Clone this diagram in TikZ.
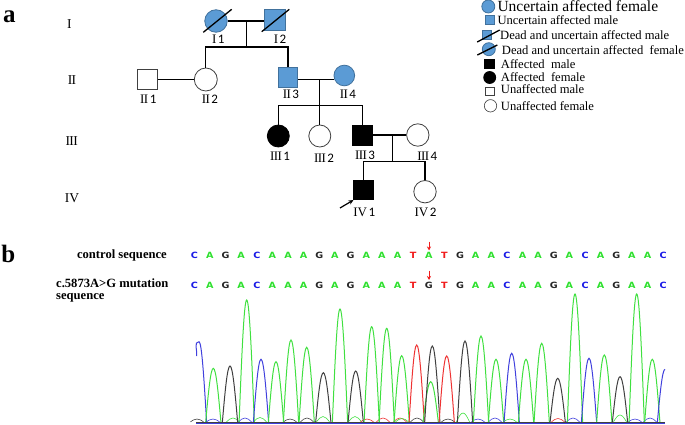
\documentclass[tikz,border=0pt]{standalone}
\usepackage{fontspec}
\setmainfont{Liberation Serif}
\newfontfamily\seqfont{DejaVu Sans}
\newfontfamily\digfont{Carlito}
\usepackage{graphicx}
\usetikzlibrary{arrows.meta}
\definecolor{pblue}{HTML}{5B9BD5}
\definecolor{pbord}{HTML}{41719C}
\definecolor{sA}{HTML}{2EE02E}
\definecolor{sC}{HTML}{1A1AE6}
\definecolor{sG}{HTML}{262626}
\definecolor{sT}{HTML}{F01C1C}
\definecolor{tA}{HTML}{40E040}
\definecolor{tC}{HTML}{4040DD}
\definecolor{tG}{HTML}{404040}
\definecolor{tT}{HTML}{EE3333}
\newcommand{\gI}{I}
\newcommand{\gII}{I\kern-0.6pt I}
\newcommand{\gIII}{I\kern-0.6pt I\kern-0.6pt I}
\newcommand{\gIV}{IV}
\newcommand{\plab}[2]{#1\kern1.5pt{\digfont #2}}
\begin{document}
\begin{tikzpicture}[x=1pt,y=-1pt,
  ped/.style={line width=1.3pt},
  pm/.style={rectangle, inner sep=0pt, line width=0.8pt},
  pf/.style={circle, inner sep=0pt, line width=0.8pt},
  unc/.style={fill=pblue, draw=pbord},
  aff/.style={fill=black, draw=black},
  una/.style={fill=white, draw=black!75},
  slash/.style={line width=1.3pt},
  lab/.style={font=\fontsize{13}{13}\selectfont, inner sep=0pt},
  gen/.style={font=\fontsize{13.5}{13.5}\selectfont, inner sep=0pt},
  leg/.style={font=\fontsize{12.6}{13}\selectfont, anchor=west, inner sep=0pt},
  seqlab/.style={font=\bfseries\fontsize{12.6}{14}\selectfont, inner sep=0pt},
  seqch/.style={font=\seqfont\bfseries\fontsize{8.6}{9}\selectfont, inner sep=0pt},
  panel/.style={font=\bfseries\fontsize{25}{25}\selectfont, inner sep=0pt},
  trace/.style={line width=1pt},
  bump/.style={line width=0.6pt}
]
\path[use as bounding box] (0,0) rectangle (685,425);

% panel letters
\node[panel] (pa) at (9.3,17) {a};
\node[panel] (pb) at (8.3,254) {b};

% generation labels
\node[gen] (gI) at (69.3,23.8) {\gI};
\node[gen] (gII) at (72,80.5) {\gII};
\node[gen] (gIII) at (71.7,141.3) {\gIII};
\node[gen] (gIV) at (72,197.8) {\gIV};

% generation I
\node[pf,unc,minimum size=22.5pt] (I1) at (216,21) {};
\node[pm,unc,minimum size=21.3pt] (I2) at (275,19.8) {};
\draw[slash] (I1.center) ++(-12.7,11.3) -- ++(28.4,-23);
\draw[slash] (I2.center) ++(-13.3,11.9) -- ++(27.6,-22.4);
\coordinate (m1) at (246.7,21);
\coordinate (s1) at (246.7,47);

% generation II
\node[pm,una,minimum size=20pt] (II1) at (147.3,79.5) {};
\node[pf,una,minimum size=23pt] (II2) at (205.8,79.5) {};
\node[pm,unc,minimum size=19.5pt] (II3) at (288,77.2) {};
\node[pf,unc,minimum size=20.7pt] (II4) at (344.3,75.5) {};
\coordinate (m2) at (319.3,79.3);
\coordinate (s2) at (319.3,105.3);

% generation III
\node[pf,aff,minimum size=22pt] (III1) at (278.3,136) {};
\node[pf,una,minimum size=22pt] (III2) at (319.8,136) {};
\node[pm,aff,minimum size=20.5pt] (III3) at (362.3,135.5) {};
\node[pf,una,minimum size=22.4pt] (III4) at (417.8,135) {};
\coordinate (m3) at (392.3,135);
\coordinate (s3) at (392.3,161.7);

% generation IV
\node[pm,aff,minimum size=19.3pt] (IV1) at (363.5,190) {};
\node[pf,una,minimum size=22.4pt] (IV2) at (425,191.7) {};

% pedigree lines
\draw[ped] (I1.east) -- (I2.west |- I1.east);
\draw[ped] (m1) -- (s1);
\draw[ped] (II2.north) |- (s1) -| (II3.north);
\draw[ped] (II1.east) -- (II2.west);
\draw[ped] (II3.east |- m2) -- (II4.west |- m2);
\draw[ped] (m2) -- (s2);
\draw[ped] (III1.north) |- (s2) -| (III3.north);
\draw[ped] (III2.north) -- (III2.north |- s2);
\draw[ped] (III3.east |- m3) -- (III4.west |- m3);
\draw[ped] (m3) -- (s3);
\draw[ped] (IV1.north) |- (s3) -| (IV2.north);

% proband arrow
\coordinate (pr0) at (340,208);
\draw[line width=1.2pt,-{Stealth[length=5pt,width=4.5pt]}] (pr0) -- (IV1.south west);

% individual labels
\node[lab] (lI1) at (218.3,39) {\plab{\gI}{1}};
\node[lab] (lI2) at (280,39) {\plab{\gI}{2}};
\node[lab] (lII1) at (148.3,99) {\plab{\gII}{1}};
\node[lab] (lII2) at (210,99) {\plab{\gII}{2}};
\node[lab] (lII3) at (291,94.5) {\plab{\gII}{3}};
\node[lab] (lII4) at (348,94.5) {\plab{\gII}{4}};
\node[lab] (lIII1) at (280,156.7) {\plab{\gIII}{1}};
\node[lab] (lIII2) at (324,158) {\plab{\gIII}{2}};
\node[lab] (lIII3) at (365,155.3) {\plab{\gIII}{3}};
\node[lab] (lIII4) at (427.3,156.7) {\plab{\gIII}{4}};
\node[lab] (lIV1) at (364.2,212.5) {\plab{\gIV}{1}};
\node[lab] (lIV2) at (425.5,212.5) {\plab{\gIV}{2}};

% legend
\node[pf,unc,minimum size=13pt] (k1) at (488.3,6.5) {};
\node[leg,font=\fontsize{15.5}{16}\selectfont] (t1) at (497.3,6.3) {Uncertain affected female};
\node[pm,unc,minimum size=9pt] (k2) at (490,20) {};
\node[leg] (t2) at (497.3,20) {Uncertain affected male};
\node[pm,unc,minimum size=9pt] (k3) at (487.2,34.6) {};
\draw[slash] (k3.center) ++(-10,7.4) -- ++(22.5,-12);
\node[leg] (t3) at (500,35) {Dead and uncertain affected male};
\node[pf,unc,minimum size=13pt] (k4) at (488.8,49.2) {};
\draw[slash] (k4.center) ++(-11.5,5.8) -- ++(20,-10);
\node[leg] (t4) at (501.7,50.5) {Dead and uncertain affected\ \ female};
\node[pm,aff,minimum size=9.5pt] (k5) at (489.2,63.8) {};
\node[leg] (t5) at (500.7,64) {Affected\ \ male};
\node[pf,aff,minimum size=12pt] (k6) at (489.7,77.5) {};
\node[leg] (t6) at (500.7,77) {Affected\ \ female};
\node[pm,una,line width=0.6pt,minimum size=8.7pt] (k7) at (490,91.2) {};
\node[leg] (t7) at (500.7,89.3) {Unaffected male};
\node[pf,una,line width=0.6pt,minimum size=12.4pt] (k8) at (490.5,105.8) {};
\node[leg] (t8) at (500.7,106) {Unaffected female};

% sequence labels
\node[seqlab,anchor=east] (cl) at (167,255) {control sequence};
\node[seqlab,anchor=west] (ml1) at (56,283.5) {c.5873A>G mutation};
\node[seqlab,anchor=west] (ml2) at (56,298) {sequence};

% sequences
\foreach \L [count=\i from 0] in {C,A,G,A,C,A,A,A,G,A,G,A,A,A,T,A,T,G,A,A,C,A,A,G,A,C,A,G,A,A,C}
  \node[seqch,text=s\L] (cs\i) at (194.3+15.63*\i,255) {\scalebox{1.12}[1]{\L}};
\foreach \L [count=\i from 0] in {C,A,G,A,C,A,A,A,G,A,G,A,A,A,T,G,T,G,A,A,C,A,A,G,A,C,A,G,A,A,C}
  \node[seqch,text=s\L] (ms\i) at (194.3+15.63*\i,285) {\scalebox{1.12}[1]{\L}};

% red arrows
\coordinate (ra1) at (429,241.5);
\coordinate (ra1e) at (429,250.5);
\coordinate (ra2) at (429,270.5);
\coordinate (ra2e) at (429,280);
\draw[sT,line width=0.9pt,-{Stealth[length=4pt,width=4pt]}] (ra1) -- (ra1e);
\draw[sT,line width=0.9pt,-{Stealth[length=4pt,width=4pt]}] (ra2) -- (ra2e);

% chromatogram baselines
\draw[tT,line width=0.6pt] (196,422.6) -- (665,422.6);
\draw[tC,line width=0.6pt] (196,423.2) -- (665,423.2);
\draw[tG,line width=0.5pt] (196,422) -- (665,422);

% small bumps
\foreach \c/\t/\k in {197/419/tG,213/419/tC,233/418/tA,245/418/tC,260/417.5/tA,290/419/tG,307/418/tG,323/416.5/tA,355/416.5/tA,367/419/tT,383/418/tT,400/418/tT,402/418.5/tA,417/418/tG,448/419/tG,463/413/tA,478/419/tC,495/418/tC,510/419/tA,558/418.5/tT,573/418/tC,620/415/tA,635/419/tC,650/418/tC}
  \draw[bump,\k] (\c-6.5,421.8) sin (\c,\t) cos (\c+6.5,421.8);

% main peaks
\draw[trace,tC] (196.5,356) to[out=78,in=180] (199,341.7) cos (206.6,421.8);
\foreach \c/\t/\k in {213.3/368.3/tA,230/366/tG,246.7/300/tA,261/359.3/tC,276/361.7/tA,291/340/tA,306.7/347.3/tA,323.3/372.7/tG,340/309/tA,355.7/371/tG,371.7/326.7/tA,386.7/328.3/tA,401.7/355.7/tA,416.7/345/tT,430.7/381.7/tA,432.3/346/tG,446.7/356/tT,465/341/tG,481/336/tA,496/359.3/tA,511.7/353.3/tC,526/359.3/tA,541.7/343.3/tA,557.7/378.3/tG,575/294/tA,589/358.3/tC,604.3/355/tA,620/376.7/tG,636.7/294/tA,652.3/359.3/tA}
  \draw[trace,\k] (\c-7.6,421.8) sin (\c,\t) cos (\c+7.6,421.8);
\draw[trace,tC] (657.4,421.8) sin (665,369.3);
\end{tikzpicture}
\end{document}
